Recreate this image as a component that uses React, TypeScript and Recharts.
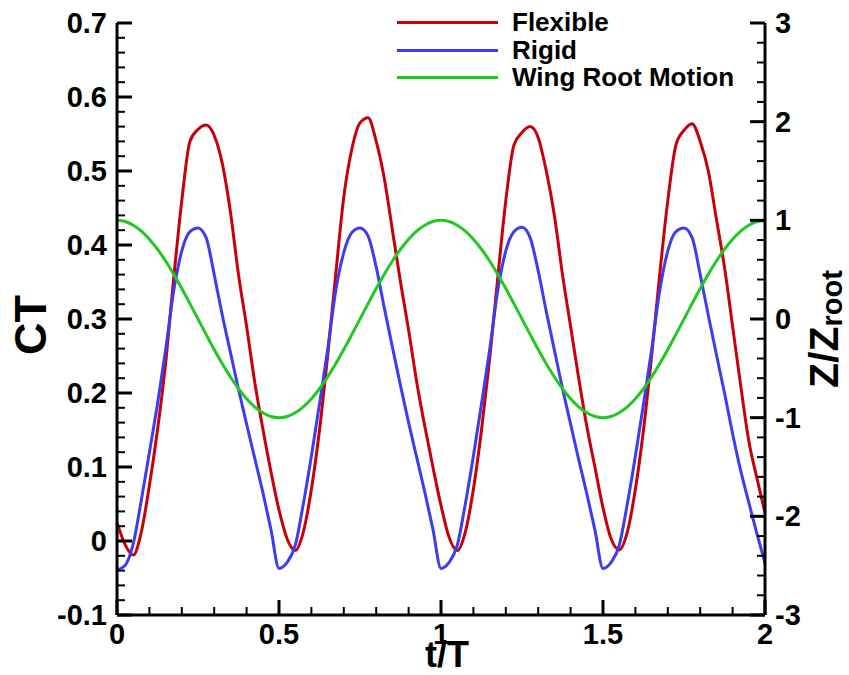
import React from 'react'
import { LineChart, Line, XAxis, YAxis, Legend } from 'recharts'

// t/T sample points
const tValues = [
  0, 0.025, 0.05, 0.075, 0.1, 0.125, 0.15, 0.175, 0.2, 0.225, 0.25, 0.275, 0.3, 0.325, 0.35, 0.375, 0.4, 0.425, 0.45, 0.475,
  0.5, 0.525, 0.55, 0.575, 0.6, 0.625, 0.65, 0.675, 0.7, 0.725, 0.75, 0.775, 0.8, 0.825, 0.85, 0.875, 0.9, 0.925, 0.95, 0.975,
  1, 1.025, 1.05, 1.075, 1.1, 1.125, 1.15, 1.175, 1.2, 1.225, 1.25, 1.275, 1.3, 1.325, 1.35, 1.375, 1.4, 1.425, 1.45, 1.475,
  1.5, 1.525, 1.55, 1.575, 1.6, 1.625, 1.65, 1.675, 1.7, 1.725, 1.75, 1.775, 1.8, 1.825, 1.85, 1.875, 1.9, 1.925, 1.95, 1.975,
  2,
]

// CT, flexible wing
const flexibleCT = [
  0.025, -0.005, -0.019, 0.012, 0.075, 0.15, 0.24, 0.355, 0.46, 0.54, 0.556, 0.562, 0.548, 0.51, 0.445, 0.36, 0.29, 0.215, 0.152, 0.094,
  0.042, 0.003, -0.013, 0.012, 0.07, 0.15, 0.25, 0.36, 0.465, 0.53, 0.565, 0.572, 0.54, 0.49, 0.42, 0.35, 0.285, 0.215, 0.155, 0.1,
  0.048, 0.005, -0.013, 0.012, 0.07, 0.15, 0.245, 0.355, 0.46, 0.535, 0.552, 0.56, 0.545, 0.5, 0.44, 0.36, 0.29, 0.22, 0.155, 0.1,
  0.045, 0.003, -0.012, 0.012, 0.07, 0.15, 0.25, 0.36, 0.46, 0.535, 0.555, 0.564, 0.54, 0.5, 0.435, 0.37, 0.29, 0.21, 0.135, 0.085,
  0.038,
]

// CT, rigid wing
const rigidCT = [
  -0.039, -0.033, -0.004, 0.055, 0.12, 0.185, 0.258, 0.338, 0.392, 0.418, 0.423, 0.41, 0.36, 0.305, 0.255, 0.205, 0.158, 0.112, 0.066, 0.016,
  -0.037, -0.029, -0.006, 0.05, 0.115, 0.185, 0.258, 0.338, 0.39, 0.417, 0.423, 0.412, 0.37, 0.315, 0.262, 0.21, 0.16, 0.113, 0.066, 0.016,
  -0.037, -0.029, -0.006, 0.05, 0.115, 0.185, 0.258, 0.338, 0.392, 0.418, 0.424, 0.41, 0.365, 0.31, 0.258, 0.206, 0.158, 0.11, 0.064, 0.015,
  -0.037, -0.029, -0.006, 0.05, 0.115, 0.185, 0.258, 0.338, 0.392, 0.418, 0.423, 0.41, 0.36, 0.305, 0.252, 0.2, 0.145, 0.095, 0.052, 0.01,
  -0.03,
]

// Z/Zroot, wing root motion
const rootMotion = [
  1, 0.988, 0.951, 0.891, 0.809, 0.707, 0.588, 0.454, 0.309, 0.156, 0, -0.156, -0.309, -0.454, -0.588, -0.707, -0.809, -0.891, -0.951, -0.988,
  -1, -0.988, -0.951, -0.891, -0.809, -0.707, -0.588, -0.454, -0.309, -0.156, 0, 0.156, 0.309, 0.454, 0.588, 0.707, 0.809, 0.891, 0.951, 0.988,
  1, 0.988, 0.951, 0.891, 0.809, 0.707, 0.588, 0.454, 0.309, 0.156, 0, -0.156, -0.309, -0.454, -0.588, -0.707, -0.809, -0.891, -0.951, -0.988,
  -1, -0.988, -0.951, -0.891, -0.809, -0.707, -0.588, -0.454, -0.309, -0.156, 0, 0.156, 0.309, 0.454, 0.588, 0.707, 0.809, 0.891, 0.951, 0.988,
  1,
]

const xTicks = [0, 0.1, 0.2, 0.3, 0.4, 0.5, 0.6, 0.7, 0.8, 0.9, 1, 1.1, 1.2, 1.3, 1.4, 1.5, 1.6, 1.7, 1.8, 1.9, 2]
const xMajor = [0, 0.5, 1, 1.5, 2]

const ctTicks = [
  -0.1, -0.08, -0.06, -0.04, -0.02, 0, 0.02, 0.04, 0.06, 0.08, 0.1, 0.12, 0.14, 0.16, 0.18, 0.2, 0.22, 0.24, 0.26, 0.28,
  0.3, 0.32, 0.34, 0.36, 0.38, 0.4, 0.42, 0.44, 0.46, 0.48, 0.5, 0.52, 0.54, 0.56, 0.58, 0.6, 0.62, 0.64, 0.66, 0.68, 0.7,
]
const ctMajor = [-0.1, 0, 0.1, 0.2, 0.3, 0.4, 0.5, 0.6, 0.7]

const zTicks = [
  -3, -2.8, -2.6, -2.4, -2.2, -2, -1.8, -1.6, -1.4, -1.2, -1, -0.8, -0.6, -0.4, -0.2, 0,
  0.2, 0.4, 0.6, 0.8, 1, 1.2, 1.4, 1.6, 1.8, 2, 2.2, 2.4, 2.6, 2.8, 3,
]
const zMajor = [-3, -2, -1, 0, 1, 2, 3]

const data = tValues.map((t, i) => ({
  t,
  flexible: flexibleCT[i],
  rigid: rigidCT[i],
  root: rootMotion[i],
}))

const FONT = '"Liberation Sans", Arial, Helvetica, sans-serif'
const TICK_FONT = 29
const MAJOR_LEN = 15
const MINOR_LEN = 8

const isMajor = (v: number, majors: number[]) => majors.some((m) => Math.abs(m - v) < 1e-6)

function LeftTick(props: any) {
  const { x, y, payload } = props
  const major = isMajor(payload.value, ctMajor)
  return (
    <g>
      <line x1={x} y1={y} x2={x + (major ? MAJOR_LEN : MINOR_LEN)} y2={y} stroke="#000" strokeWidth={major ? 3 : 2} />
      {major && (
        <text x={x - 10} y={y + 10} textAnchor="end" fontFamily={FONT} fontWeight="bold" fontSize={TICK_FONT} fill="#000">
          {String(payload.value)}
        </text>
      )}
    </g>
  )
}

function RightTick(props: any) {
  const { x, y, payload } = props
  const major = isMajor(payload.value, zMajor)
  return (
    <g>
      <line x1={x} y1={y} x2={x - (major ? MAJOR_LEN : MINOR_LEN)} y2={y} stroke="#000" strokeWidth={major ? 3 : 2} />
      {major && (
        <text x={x + 10} y={y + 10} textAnchor="start" fontFamily={FONT} fontWeight="bold" fontSize={TICK_FONT} fill="#000">
          {String(payload.value)}
        </text>
      )}
    </g>
  )
}

function BottomTick(props: any) {
  const { x, y, payload } = props
  const major = isMajor(payload.value, xMajor)
  return (
    <g>
      <line x1={x} y1={y} x2={x} y2={y - (major ? MAJOR_LEN : MINOR_LEN)} stroke="#000" strokeWidth={major ? 3 : 2} />
      {major && (
        <text x={x} y={y + 29} textAnchor="middle" fontFamily={FONT} fontWeight="bold" fontSize={TICK_FONT} fill="#000">
          {String(payload.value)}
        </text>
      )}
    </g>
  )
}

function LegendBox(props: any) {
  const items = props.payload || []
  return (
    <div style={{ fontFamily: FONT, fontWeight: 'bold', fontSize: 26, color: '#000' }}>
      {items.map((it: any) => (
        <div key={it.value} style={{ display: 'flex', alignItems: 'center', height: 27.5 }}>
          <div style={{ width: 101, height: 3, background: it.color, marginRight: 14 }} />
          <span style={{ lineHeight: '27.5px', whiteSpace: 'nowrap' }}>{it.value}</span>
        </div>
      ))}
    </div>
  )
}

export default function App() {
  return (
    <div style={{ position: 'absolute', left: 0, top: 0, background: '#fff' }}>
      <LineChart width={849} height={675} data={data} margin={{ top: 23, right: 0, bottom: 0, left: 0 }}>
        <XAxis
          dataKey="t"
          type="number"
          domain={[0, 2]}
          ticks={xTicks}
          interval={0}
          height={60}
          tickSize={0}
          tickMargin={0}
          tickLine={false}
          axisLine={{ stroke: '#000', strokeWidth: 3 }}
          tick={<BottomTick />}
          label={(p: any) => {
            const vb = p.viewBox
            return (
              <text x={vb.x + vb.width / 2 + 6} y={vb.y + 52} textAnchor="middle" fontFamily={FONT} fontWeight="bold" fontSize={36} fill="#000">
                t/T
              </text>
            )
          }}
        />
        <YAxis
          yAxisId="left"
          orientation="left"
          type="number"
          domain={[-0.1, 0.7]}
          ticks={ctTicks}
          interval={0}
          width={117}
          tickSize={0}
          tickMargin={0}
          tickLine={false}
          axisLine={{ stroke: '#000', strokeWidth: 3 }}
          tick={<LeftTick />}
          label={(p: any) => {
            const vb = p.viewBox
            const cx = 46
            const cy = vb.y + vb.height / 2 + 6
            return (
              <text x={cx} y={cy} transform={`rotate(-90, ${cx}, ${cy})`} textAnchor="middle" fontFamily={FONT} fontWeight="bold" fontSize={45} fill="#000">
                CT
              </text>
            )
          }}
        />
        <YAxis
          yAxisId="right"
          orientation="right"
          type="number"
          domain={[-3, 3]}
          ticks={zTicks}
          interval={0}
          width={84}
          tickSize={0}
          tickMargin={0}
          tickLine={false}
          axisLine={{ stroke: '#000', strokeWidth: 3 }}
          tick={<RightTick />}
          label={(p: any) => {
            const vb = p.viewBox
            const cx = 838
            const cy = vb.y + vb.height / 2 + 10
            return (
              <text x={cx} y={cy} transform={`rotate(-90, ${cx}, ${cy})`} textAnchor="middle" fontFamily={FONT} fontWeight="bold" fontSize={41} fill="#000">
                <tspan>Z/Z</tspan>
                <tspan fontSize={29} dy={4}>root</tspan>
              </text>
            )
          }}
        />
        <Legend
          layout="horizontal"
          verticalAlign="middle"
          align="center"
          content={<LegendBox />}
          wrapperStyle={{ left: 397, top: 9, width: 'auto' }}
        />
        <Line
          yAxisId="left"
          name="Flexible"
          type="monotone"
          dataKey="flexible"
          stroke="#c8000a"
          strokeWidth={3}
          dot={false}
          isAnimationActive={false}
        />
        <Line
          yAxisId="left"
          name="Rigid"
          type="monotone"
          dataKey="rigid"
          stroke="#3c3cf0"
          strokeWidth={3}
          dot={false}
          isAnimationActive={false}
        />
        <Line
          yAxisId="right"
          name="Wing Root Motion"
          type="monotone"
          dataKey="root"
          stroke="#22c822"
          strokeWidth={3}
          dot={false}
          isAnimationActive={false}
        />
      </LineChart>
    </div>
  )
}
